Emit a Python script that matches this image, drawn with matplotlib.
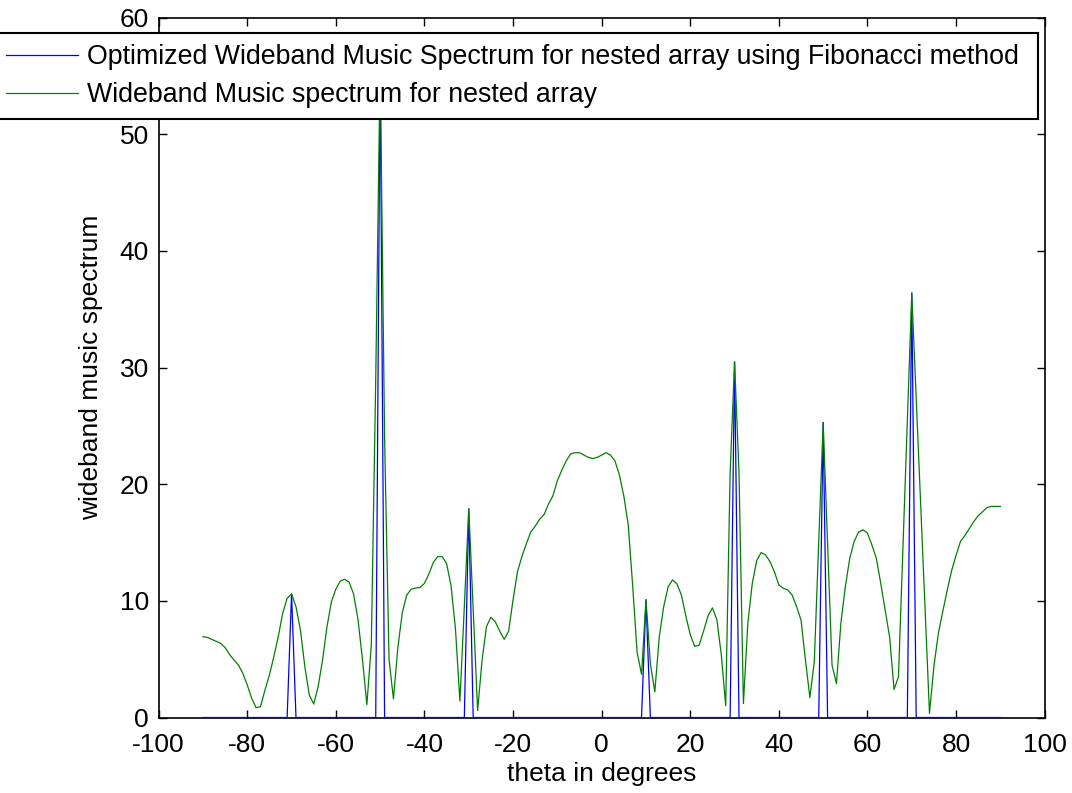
import numpy as np
import matplotlib
matplotlib.use("Agg")
import matplotlib.pyplot as plt

plt.rcParams['font.family'] = ['Liberation Sans', 'DejaVu Sans']
plt.rcParams['axes.unicode_minus'] = False

# scan angles, one per degree
theta = np.arange(-90, 91)

# wideband MUSIC spectrum for the nested array
music_spectrum = [
    6.93, 6.87, 6.70, 6.53, 6.36, 5.99, 5.41, 4.93, 4.50, 3.79,      # -90 .. -81
    2.79, 1.65, 0.84, 0.93, 2.36, 3.65, 5.22, 6.93, 8.93, 10.22,     # -80 .. -71
    10.59, 9.5, 7.5, 4.36, 1.93, 1.16, 2.65, 4.93, 7.79, 9.93,       # -70 .. -61
    11.0, 11.7, 11.85, 11.6, 10.6, 8.4, 5.0, 1.1, 6.2, 29.0,         # -60 .. -51
    56.0, 24.0, 5.0, 1.6, 6.0, 9.0, 10.5, 11.0, 11.1, 11.15,         # -50 .. -41
    11.5, 12.3, 13.3, 13.8, 13.8, 13.2, 11.3, 7.6, 1.4, 9.5,         # -40 .. -31
    17.9, 9.2, 0.6, 4.9, 7.8, 8.6, 8.2, 7.4, 6.7, 7.4,               # -30 .. -21
    10.1, 12.5, 13.8, 14.9, 15.9, 16.4, 17.0, 17.4, 18.3, 19.0,      # -20 .. -11
    20.3, 21.2, 22.0, 22.6, 22.7, 22.7, 22.5, 22.3, 22.2, 22.3,      # -10 .. -1
    22.5, 22.7, 22.5, 22.0, 20.8, 19.0, 16.5, 11.3, 5.6, 3.7,        # 0 .. 9
    10.1, 4.6, 2.2, 6.9, 9.5, 11.2, 11.8, 11.45, 10.5, 8.7,          # 10 .. 19
    7.1, 6.1, 6.2, 7.4, 8.7, 9.4, 8.4, 5.4, 1.0, 21.0,               # 20 .. 29
    30.5, 21.0, 1.2, 8.1, 11.5, 13.45, 14.14, 13.94, 13.36, 12.5,    # 30 .. 39
    11.36, 11.08, 10.94, 10.5, 9.5, 8.36, 4.93, 1.7, 4.8, 15.0,      # 40 .. 49
    25.3, 15.0, 4.5, 2.9, 8.1, 11.2, 13.65, 15.1, 15.9, 16.1,        # 50 .. 59
    15.8, 14.8, 13.65, 11.5, 9.2, 6.9, 2.4, 3.5, 14.5, 25.4,         # 60 .. 69
    36.4, 27.4, 18.4, 9.4, 0.35, 4.4, 7.2, 9.1, 10.9, 12.6,          # 70 .. 79
    13.9, 15.1, 15.6, 16.2, 16.8, 17.3, 17.65, 18.0, 18.1, 18.1,     # 80 .. 89
    18.1,                                                            # 90
]

# Fibonacci-optimized spectrum: only the detected peaks survive
peak_angles = [-70, -50, -30, 10, 30, 50, 70]
peak_values = [10.59, 56.0, 17.9, 10.1, 30.5, 25.3, 36.4]

optimized_spectrum = np.zeros(len(theta))
for ang, val in zip(peak_angles, peak_values):
    optimized_spectrum[theta == ang] = val

labels = ['Optimized Wideband Music Spectrum for nested array using Fibonacci method',
          'Wideband Music spectrum for nested array']

fig = plt.figure(figsize=(10.72, 7.93), dpi=100)
ax = fig.add_axes([0.148, 0.0952, 0.8265, 0.8825])

ax.plot(theta, optimized_spectrum, color='#0000ff', lw=0.9, label=labels[0],
        zorder=3, clip_on=False)
ax.plot(theta, music_spectrum, color='#008000', lw=0.9, label=labels[1],
        zorder=3, clip_on=False)

ax.set_xlim(-100, 100)
ax.set_ylim(0, 60)
ax.set_xticks(np.arange(-100, 101, 20))
ax.set_yticks(np.arange(0, 61, 10))
ax.tick_params(direction='in', length=6, width=1, top=True, right=True,
               labelsize=19, colors='black')
ax.tick_params(axis='x', pad=11)
ax.tick_params(axis='y', pad=7)
for s in ax.spines.values():
    s.set_linewidth(1.2)

ax.set_xlabel('theta in degrees', fontsize=19, labelpad=4)
ax.set_ylabel('wideband music spectrum', fontsize=19, labelpad=12)

leg = fig.legend(loc='lower left', mode='expand',
                 bbox_to_anchor=(-5 / 1072, 1 - 119 / 793, 1043 / 1072, 86 / 793),
                 fontsize=19.3, handlelength=2.7, handletextpad=0.35,
                 labelspacing=0.46, borderpad=0.4, borderaxespad=0,
                 fancybox=False, framealpha=1)
leg.get_frame().set_edgecolor('black')
leg.get_frame().set_linewidth(1.5)
leg.set_zorder(10)

fig.savefig('out.png', dpi=100)
